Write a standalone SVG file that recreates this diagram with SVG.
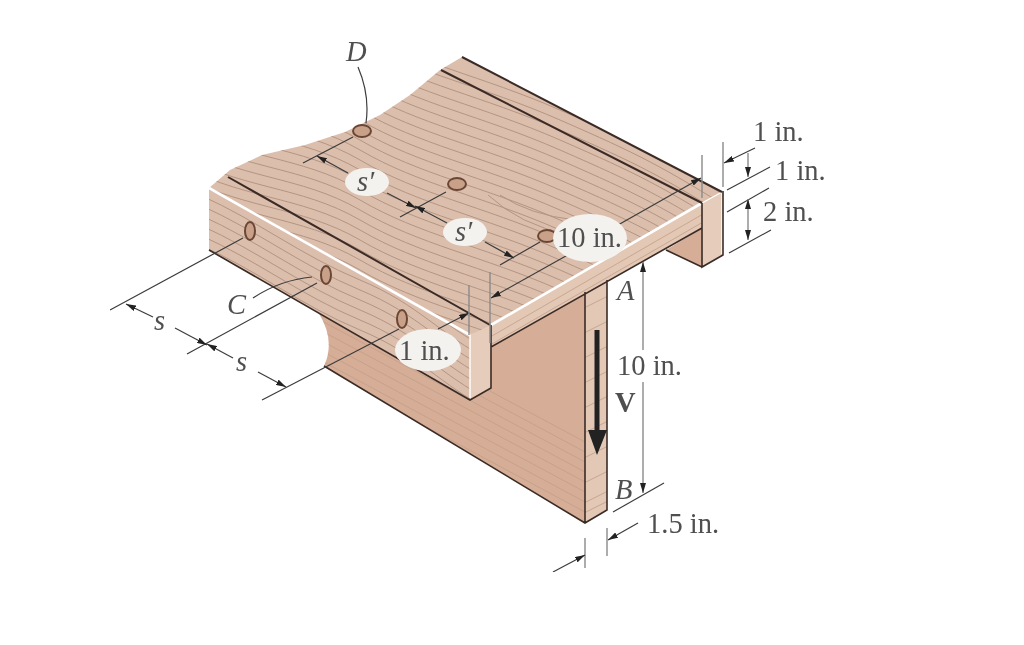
<svg xmlns="http://www.w3.org/2000/svg" xmlns:xlink="http://www.w3.org/1999/xlink" width="1024" height="645" viewBox="0 0 1024 645">
<style>
text{font-family:"Liberation Serif","Times New Roman",serif;font-size:28.5px;fill:#505050}
.i{font-style:italic}
.edge{fill:none;stroke:#3a2c26;stroke-width:2}
.grain{fill:none;stroke:#b39583;stroke-width:1}
.grainl{fill:none;stroke:#c39e88;stroke-width:.8}
.dim{fill:none;stroke:#3c3c3c;stroke-width:1.2}
.ext{fill:none;stroke:#8a8a8a;stroke-width:1.4}
.a{marker-end:url(#ah)}
.hole{fill:#c9a088;stroke:#6a4636;stroke-width:2}
.lab{fill:#f4f2ef}
</style>
<defs>
<marker id="ah" viewBox="0 0 10 6" refX="10" refY="3" markerWidth="10" markerHeight="6" markerUnits="userSpaceOnUse" orient="auto"><path d="M0 0L10 3L0 6z" fill="#222"/></marker>
<filter id="soft" x="0" y="0" width="100%" height="100%"><feGaussianBlur stdDeviation="0.7"/></filter>
<clipPath id="cTop"><path d="M209 188L230 170L262 155L305 145L345 132L380 115L410 95L440 70L462 57L722 192L702 203L491 325L470 335z"/></clipPath>
<clipPath id="cLeft"><path d="M209 188L470 335V400L209 250z"/></clipPath>
<clipPath id="cEnd"><path d="M491 325L702 203V228L491 347z"/></clipPath>
<clipPath id="cWeb"><path d="M318 312L470 400L491 388V347L585 292V523L324 366Q336 340 318 312z"/></clipPath>
<clipPath id="cStrip"><path d="M585 292L607 280V510L585 523z"/></clipPath>
<path id="gt" d="M170 90C240 130 300 125 360 160S480 205 560 240S660 285 740 335"/>
<path id="gl" d="M200 195C260 222 300 255 360 280S440 335 490 360"/>
<path id="gw" d="M320 300L600 450"/>
<path id="gs" d="M580 300L612 284"/>
<path id="ge" d="M485 340L710 210"/>
</defs>
<rect width="1024" height="645" fill="#fff"/>
<g filter="url(#soft)">
<g id="beam">
<path d="M318 312L470 400L491 388V347L585 292V523L324 366Q336 340 318 312z" fill="#d6ae97"/>
<path d="M666 250L702 228V267z" fill="#d6ae97"/>
<path d="M585 292L607 280V510L585 523z" fill="#e3c8b5"/>
<path d="M209 188L470 335V400L209 250z" fill="#dcbeac"/>
<path d="M470 335L491 323V388L470 400z" fill="#e6cdbb"/>
<path d="M702 203L723 191V255L702 267z" fill="#e6cdbb"/>
<path d="M491 325L702 203V228L491 347z" fill="#e3c8b5"/>
<path d="M209 188L230 170L262 155L305 145L345 132L380 115L410 95L440 70L462 57L722 192L702 203L491 325L470 335z" fill="#dcbeac"/>
<g clip-path="url(#cTop)" class="grain">
<use href="#gt" y="-130"/><use href="#gt" y="-120"/><use href="#gt" y="-110"/><use href="#gt" y="-100"/><use href="#gt" y="-90"/><use href="#gt" y="-80"/><use href="#gt" y="-70"/><use href="#gt" y="-60"/><use href="#gt" y="-50"/><use href="#gt" y="-40"/><use href="#gt" y="-30"/><use href="#gt" y="-20"/><use href="#gt" y="-10"/><use href="#gt"/><use href="#gt" y="10"/><use href="#gt" y="20"/><use href="#gt" y="30"/><use href="#gt" y="40"/><use href="#gt" y="50"/><use href="#gt" y="60"/><use href="#gt" y="70"/><use href="#gt" y="80"/><use href="#gt" y="90"/><use href="#gt" y="100"/><use href="#gt" y="110"/><use href="#gt" y="120"/><use href="#gt" y="130"/><use href="#gt" y="140"/><use href="#gt" y="150"/><use href="#gt" y="160"/><use href="#gt" y="170"/><use href="#gt" y="180"/><use href="#gt" y="190"/>
<path d="M488 195Q520 225 570 235M500 195Q530 215 575 220"/>
</g>
<g clip-path="url(#cLeft)" class="grain">
<use href="#gl" y="-20"/><use href="#gl" y="-10"/><use href="#gl"/><use href="#gl" y="10"/><use href="#gl" y="20"/><use href="#gl" y="30"/><use href="#gl" y="40"/><use href="#gl" y="50"/><use href="#gl" y="60"/>
</g>
<g clip-path="url(#cWeb)" class="grainl">
<use href="#gw"/><use href="#gw" y="10"/><use href="#gw" y="20"/><use href="#gw" y="30"/><use href="#gw" y="40"/><use href="#gw" y="50"/><use href="#gw" y="60"/><use href="#gw" y="70"/><use href="#gw" y="80"/><use href="#gw" y="90"/><use href="#gw" y="100"/><use href="#gw" y="110"/><use href="#gw" y="120"/>
</g>
<g clip-path="url(#cStrip)" class="grainl">
<use href="#gs" y="10"/><use href="#gs" y="35"/><use href="#gs" y="60"/><use href="#gs" y="85"/><use href="#gs" y="110"/><use href="#gs" y="135"/><use href="#gs" y="160"/><use href="#gs" y="185"/><use href="#gs" y="205"/><use href="#gs" y="215"/><use href="#gs" y="225"/>
</g>
<g clip-path="url(#cEnd)" class="grainl">
<use href="#ge"/><use href="#ge" y="8"/><use href="#ge" y="16"/>
</g>
<path d="M209 188L470 335M491 325L702 203" fill="none" stroke="#fff" stroke-width="2.6"/>
<path d="M470 335V398M722 191V254M702 203L722 192" fill="none" stroke="#fff" stroke-width="1.4"/>
<path class="edge" d="M228 177L490 325M441 70L702 203M462 57L722 192" stroke-width="2.2"/>
<path class="edge" d="M209 250L470 400L491 388V325M702 203V267L723 255V191M491 347L702 228M666 250L702 267M324 366L585 523L607 510V280M585 523V292" style="stroke-width:1.6"/>
</g>
<g id="holes">
<ellipse class="hole" cx="250" cy="231" rx="5" ry="9"/>
<ellipse class="hole" cx="326" cy="275" rx="5" ry="9"/>
<ellipse class="hole" cx="402" cy="319" rx="5" ry="9"/>
<ellipse class="hole" cx="362" cy="131" rx="9" ry="6"/>
<ellipse class="hole" cx="457" cy="184" rx="9" ry="6"/>
<ellipse class="hole" cx="547" cy="236" rx="9" ry="6"/>
</g>
<g id="connectors">
<path class="dim" d="M243 238L110 310M317 283L187 354M399 329L262 400"/>
<path class="dim a" d="M153 317L126 304"/>
<path class="dim a" d="M175 328L207 345"/>
<path class="dim a" d="M233 358L207 344"/>
<path class="dim a" d="M258 372L286 387"/>
<path class="dim" d="M353 137L303 163M446 192L400 217M540 242L500 265"/>
<path class="dim a" d="M348 173L317 156"/>
<path class="dim a" d="M387 193L416 208"/>
<path class="dim a" d="M447 223L415 206"/>
<path class="dim a" d="M485 242L514 258"/>
<path class="dim a" d="M618 225L701 178"/>
<path class="dim a" d="M573 252L491 298"/>
<path class="dim a" d="M438 329L469 313"/>
<path class="ext" d="M702 155V198M490 272V343M469 285V335M723 142V187"/>
<path class="dim a" d="M755 148L724 163"/>
<path class="dim" d="M727 190L770 167M727 212L769 188M729 253L771 230"/>
<path class="ext a" d="M748 153V177"/>
<path class="ext a" d="M748 220V199"/>
<path class="ext a" d="M748 220V240"/>
<path class="ext a" d="M643 350V262"/>
<path class="ext a" d="M643 382V493"/>
<path class="dim" d="M613 512L664 483"/>
<path class="ext" d="M607 528V556M585 538V568"/>
<path class="dim a" d="M638 523L608 540"/>
<path class="dim a" d="M553 572L585 555"/>
<path class="dim" d="M253 298Q280 280 312 277M358 67Q370 95 366 123"/>
<path d="M597 330V432" stroke="#222" stroke-width="5" fill="none"/>
<path d="M588 430H607L597 455z" fill="#222"/>
</g>
<g id="labels">
<ellipse class="lab" cx="367" cy="182" rx="22" ry="14"/>
<ellipse class="lab" cx="465" cy="232" rx="22" ry="14"/>
<ellipse class="lab" cx="590" cy="238" rx="37" ry="24"/>
<ellipse class="lab" cx="428" cy="350" rx="33" ry="21"/>
<text class="i" x="346" y="61">D</text>
<text class="i" x="227" y="314">C</text>
<text class="i" x="154" y="330">s</text>
<text class="i" x="236" y="371">s</text>
<text class="i" x="357" y="191">s′</text>
<text class="i" x="455" y="241">s′</text>
<text x="557" y="247">10 in.</text>
<text x="399" y="360">1 in.</text>
<text x="753" y="141">1 in.</text>
<text x="775" y="180">1 in.</text>
<text x="763" y="221">2 in.</text>
<text class="i" x="617" y="300">A</text>
<text x="617" y="375">10 in.</text>
<text x="615" y="412" font-weight="bold">V</text>
<text class="i" x="615" y="499">B</text>
<text x="647" y="533">1.5 in.</text>
</g>
</g>
</svg>
